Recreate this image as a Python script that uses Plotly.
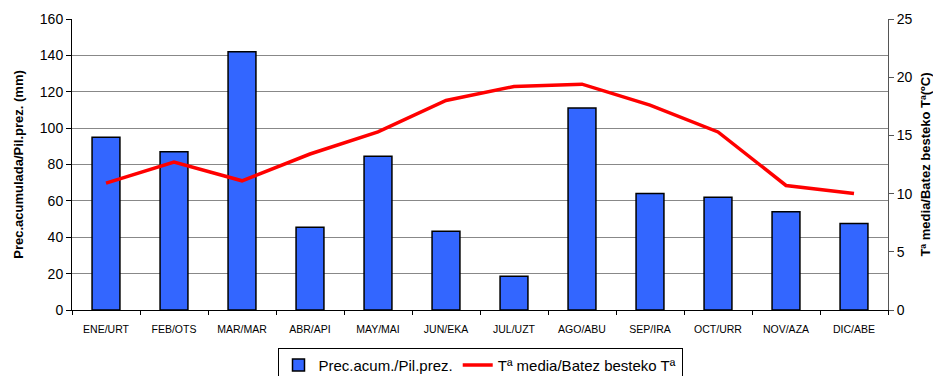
import plotly.graph_objects as go

months = ["ENE/URT", "FEB/OTS", "MAR/MAR", "ABR/API", "MAY/MAI", "JUN/EKA",
          "JUL/UZT", "AGO/ABU", "SEP/IRA", "OCT/URR", "NOV/AZA", "DIC/ABE"]
precip = [95, 87, 142, 45.5, 84.5, 43.3, 18.5, 111, 64, 62, 54, 47.5]
temp = [10.9, 12.7, 11.1, 13.4, 15.3, 18.0, 19.2, 19.4, 17.6, 15.3, 10.7, 10.0]

fig = go.Figure()
fig.add_trace(go.Bar(
    x=months, y=precip, name="Prec.acum./Pil.prez.",
    marker=dict(color="#3366FF", line=dict(color="black", width=1.5)),
    width=0.41, yaxis="y"))
fig.add_trace(go.Scatter(
    x=months, y=temp, name="Tª media/Batez besteko Tª", mode="lines",
    line=dict(color="#FF0000", width=3.5), yaxis="y2"))

# page body has an 8px margin, so the figure is sized to the visible area
fig.update_layout(
    width=933, height=368,
    margin=dict(l=64, r=53, t=11, b=66, autoexpand=False),
    paper_bgcolor="white", plot_bgcolor="white",
    font=dict(family="Liberation Sans, Arial, sans-serif", color="black"),
    showlegend=True,
    legend=dict(orientation="h", x=0.5, xanchor="center", y=-0.13, yanchor="top",
                bordercolor="black", borderwidth=1, font=dict(size=15),
                tracegroupgap=0),
    xaxis=dict(showline=True, linecolor="black", linewidth=1, automargin=False,
               tickson="boundaries", ticks="outside", ticklen=4, tickcolor="black",
               tickfont=dict(size=10.5), showgrid=False, ticklabelstandoff=9),
    yaxis=dict(range=[0, 160], dtick=20, showline=True, linecolor="black",
               automargin=False,
               ticks="outside", ticklen=5, tickcolor="black",
               showgrid=True, gridcolor="#888888", gridwidth=1,
               tickfont=dict(size=14), zeroline=False,
               title=dict(text="<b>Prec.acumulada/Pil.prez. (mm)</b>", font=dict(size=13), standoff=13)),
    yaxis2=dict(range=[0, 25], dtick=5, overlaying="y", side="right",
                automargin=False,
                showline=True, linecolor="#555555", linewidth=1,
                ticks="outside", ticklen=5, tickcolor="#555555",
                showgrid=False, zeroline=False, tickfont=dict(size=14),
                title=dict(text="<b>Tª media/Batez besteko Tª(ºC)</b>", font=dict(size=13), standoff=9)),
)

fig.write_html("out.html")
